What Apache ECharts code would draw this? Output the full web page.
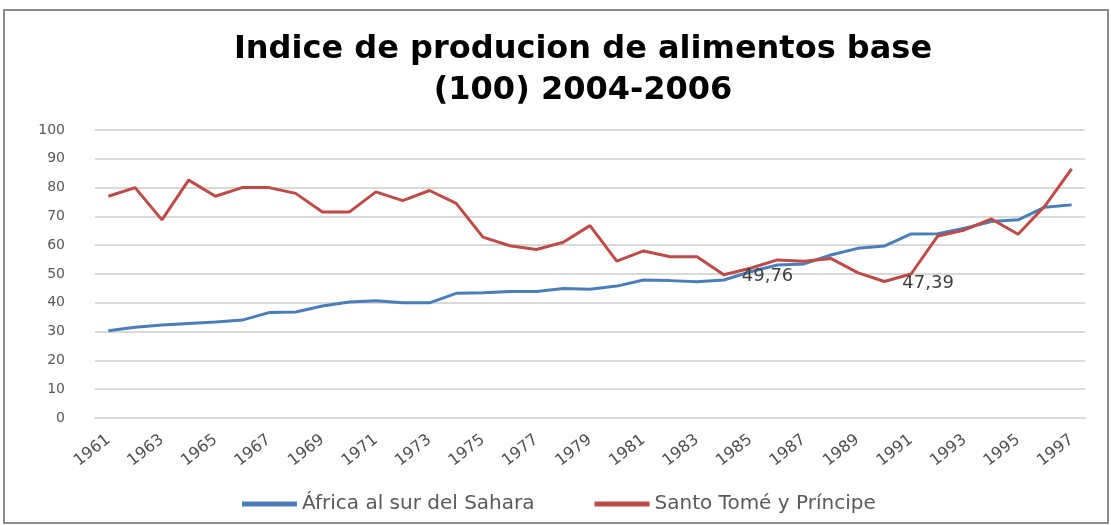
<!DOCTYPE html>
<html>
<head>
<meta charset="utf-8">
<script src="https://cdn.jsdelivr.net/npm/echarts@6/dist/echarts.min.js"></script>
<style>
    html, body { margin: 0; padding: 0; background: #fff; }
    #chart { width: 1111px; height: 525px; }
</style>
</head>
<body>
<div id="chart"></div>
<script>
(function () {
    "use strict";

    var years = [
        "1961", "1962", "1963", "1964", "1965", "1966", "1967", "1968", "1969", "1970",
        "1971", "1972", "1973", "1974", "1975", "1976", "1977", "1978", "1979", "1980",
        "1981", "1982", "1983", "1984", "1985", "1986", "1987", "1988", "1989", "1990",
        "1991", "1992", "1993", "1994", "1995", "1996", "1997"
    ];
    var africa = [
        30.3, 31.5, 32.3, 32.8, 33.3, 34.0, 36.6, 36.8, 38.9, 40.3,
        40.7, 40.0, 40.0, 43.3, 43.5, 43.9, 43.9, 45.0, 44.7, 45.8,
        47.9, 47.7, 47.3, 47.9, 50.8, 53.1, 53.5, 56.6, 58.9, 59.7,
        63.9, 64.0, 65.9, 68.2, 68.8, 73.2, 74.0
    ];
    var santoTome = [
        77.0, 80.0, 68.8, 82.6, 77.0, 80.0, 80.0, 78.0, 71.5, 71.5,
        78.5, 75.5, 79.0, 74.5, 62.8, 59.8, 58.5, 61.0, 66.8, 54.5,
        58.0, 56.0, 56.0, 49.76, 52.0, 54.9, 54.4, 55.4, 50.5, 47.39,
        50.0, 63.2, 65.3, 69.1, 63.8, 73.6, 86.5
    ];
    // puntos con etiqueta (indice en years)
    var labelled = [23, 29];
    var yTicks = [0, 10, 20, 30, 40, 50, 60, 70, 80, 90, 100];

    var font = "'DejaVu Sans', 'Open Sans', sans-serif";

    function redData() {
        return santoTome.map(function (v, i) {
            if (labelled.indexOf(i) < 0) {
                return v;
            }
            return {
                value: v,
                label: {
                    show: true,
                    position: 'right',
                    distance: 18,
                    offset: [0, 2],
                    color: '#404040',
                    fontFamily: font,
                    fontSize: 18,
                    formatter: String(v).replace('.', ',')
                }
            };
        });
    }

    var chart = echarts.init(document.getElementById('chart'));
    var option = {
        animation: false,
        backgroundColor: '#fff',
        title: {
            text: 'Indice de producion de alimentos base\n(100) 2004-2006',
            left: 578,
            textAlign: 'center',
            top: 24,
            textStyle: {
                fontFamily: font,
                fontWeight: 'bold',
                fontSize: 32,
                lineHeight: 41,
                color: '#000'
            }
        },
        graphic: [{
            type: 'rect',
            shape: { x: 4, y: 10, width: 1104, height: 513 },
            style: { fill: 'none', stroke: '#8c8c8c', lineWidth: 2 },
            silent: true
        }],
        legend: {
            bottom: 6,
            left: 237,
            itemGap: 60,
            itemWidth: 55,
            itemHeight: 5,
            icon: 'rect',
            textStyle: { fontFamily: font, fontSize: 20, color: '#595959' },
            data: ['África al sur del Sahara', 'Santo Tomé y Príncipe']
        },
        grid: { left: 95, right: 26, top: 130, bottom: 107 },
        xAxis: {
            type: 'category',
            data: years,
            boundaryGap: true,
            axisLine: { lineStyle: { color: '#d9d9d9', width: 2 } },
            axisTick: { show: false },
            axisLabel: {
                interval: 1,
                rotate: 38,
                margin: 20,
                fontFamily: font,
                fontSize: 16,
                color: '#505050'
            }
        },
        yAxis: {
            type: 'value',
            min: yTicks[0],
            max: yTicks[yTicks.length - 1],
            interval: 10,
            axisLine: { show: false },
            axisTick: { show: false },
            splitLine: { lineStyle: { color: '#d9d9d9', width: 2 } },
            axisLabel: {
                margin: 30,
                fontFamily: font,
                fontSize: 14,
                color: '#595959'
            }
        },
        series: [{
            name: 'África al sur del Sahara',
            type: 'line',
            data: africa,
            symbol: 'none',
            lineStyle: { color: '#4a7ebb', width: 3 },
            itemStyle: { color: '#4a7ebb' }
        }, {
            name: 'Santo Tomé y Príncipe',
            type: 'line',
            data: redData(),
            symbol: 'circle',
            symbolSize: 0,
            showSymbol: true,
            lineStyle: { color: '#be4b48', width: 3 },
            itemStyle: { color: '#be4b48' }
        }]
    };
    chart.setOption(option);
}());
</script>
</body>
</html>
